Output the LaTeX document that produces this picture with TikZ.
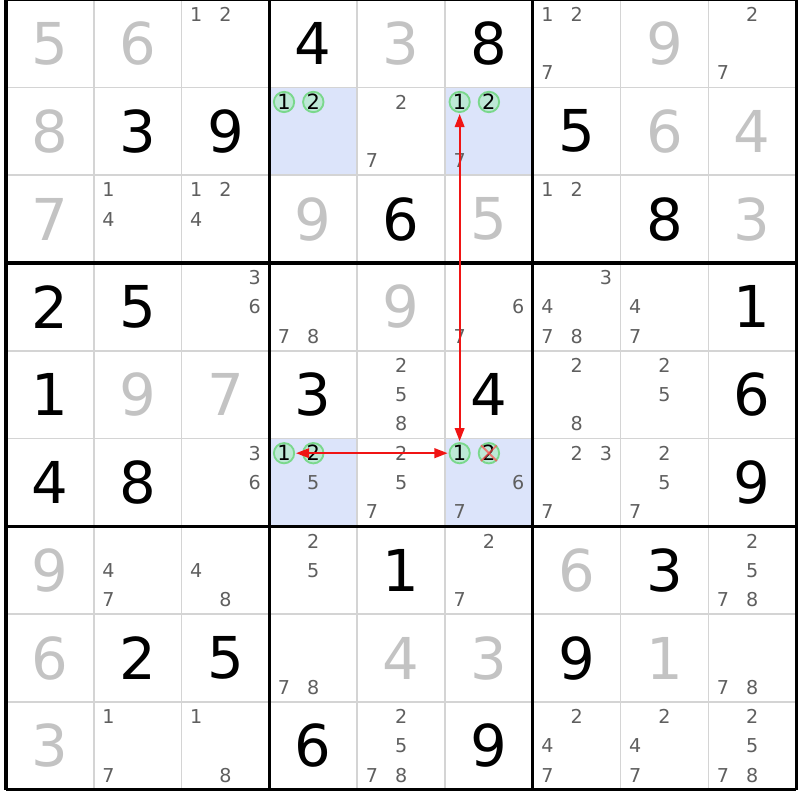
\documentclass[tikz,border=0pt]{standalone}
\usepackage{fontspec}
\setmainfont{DejaVu Sans}
\usepackage{tikz}
\usetikzlibrary{arrows.meta}
\definecolor{givengray}{RGB}{195,195,195}
\definecolor{candgray}{RGB}{95,95,95}
\definecolor{hlblue}{RGB}{220,228,250}
\definecolor{ringgreen}{RGB}{122,216,140}
\definecolor{ringfill}{RGB}{189,232,214}
\definecolor{linkred}{RGB}{240,20,20}
\definecolor{gridgray}{RGB}{212,212,212}
\tikzset{given/.style = {inner sep=0pt, text=givengray, font=\fontsize{18.7}{20}\selectfont}}
\tikzset{solved/.style = {inner sep=0pt, text=black, font=\fontsize{18.7}{20}\selectfont}}
\tikzset{cand/.style = {inner sep=0pt, text=candgray, font=\fontsize{6.2}{7}\selectfont}}
\tikzset{pair/.style = {circle, draw=ringgreen, fill=ringfill, line width=0.6pt, inner sep=0pt, minimum size=0.23cm, text=black, font=\fontsize{6.8}{7}\selectfont}}
\tikzset{link/.style = {draw=linkred, line width=0.6pt, {Triangle[length=0.15cm,width=0.11cm]}-{Triangle[length=0.15cm,width=0.11cm]}, shorten <=0.3pt, shorten >=0.3pt}}

\begin{document}
\begin{tikzpicture}[x=0.1666667cm, y=0.1666667cm]
	\useasboundingbox (-0.41,-0.70) rectangle (54.26,53.97);
	% marked cells
	\fill[hlblue] (18,42) rectangle (24,48);
	\fill[hlblue] (30,42) rectangle (36,48);
	\fill[hlblue] (18,18) rectangle (24,24);
	\fill[hlblue] (30,18) rectangle (36,24);
	% grid
	\draw[gridgray, line width=0.5pt] (0,0) grid[step=1cm] (54,54);
	\draw[black, line width=1pt] (0,0) grid[step=3cm] (54,54);
	\begin{scope}
		% row 1
		\node[given] (r1c1) at (3,51) {5};
		\node[given] (r1c2) at (9,51) {6};
		\node[cand] (r1c3n1) at (13,53) {1};
		\node[cand] (r1c3n2) at (15,53) {2};
		\node[solved] (r1c4) at (21,51) {4};
		\node[given] (r1c5) at (27,51) {3};
		\node[solved] (r1c6) at (33,51) {8};
		\node[cand] (r1c7n1) at (37,53) {1};
		\node[cand] (r1c7n2) at (39,53) {2};
		\node[cand] (r1c7n7) at (37,49) {7};
		\node[given] (r1c8) at (45,51) {9};
		\node[cand] (r1c9n2) at (51,53) {2};
		\node[cand] (r1c9n7) at (49,49) {7};
		% row 2
		\node[given] (r2c1) at (3,45) {8};
		\node[solved] (r2c2) at (9,45) {3};
		\node[solved] (r2c3) at (15,45) {9};
		\node[pair] (r2c4n1) at (19,47) {1};
		\node[pair] (r2c4n2) at (21,47) {2};
		\node[cand] (r2c5n2) at (27,47) {2};
		\node[cand] (r2c5n7) at (25,43) {7};
		\node[pair] (r2c6n1) at (31,47) {1};
		\node[pair] (r2c6n2) at (33,47) {2};
		\node[cand] (r2c6n7) at (31,43) {7};
		\node[solved] (r2c7) at (39,45) {5};
		\node[given] (r2c8) at (45,45) {6};
		\node[given] (r2c9) at (51,45) {4};
		% row 3
		\node[given] (r3c1) at (3,39) {7};
		\node[cand] (r3c2n1) at (7,41) {1};
		\node[cand] (r3c2n4) at (7,39) {4};
		\node[cand] (r3c3n1) at (13,41) {1};
		\node[cand] (r3c3n2) at (15,41) {2};
		\node[cand] (r3c3n4) at (13,39) {4};
		\node[given] (r3c4) at (21,39) {9};
		\node[solved] (r3c5) at (27,39) {6};
		\node[given] (r3c6) at (33,39) {5};
		\node[cand] (r3c7n1) at (37,41) {1};
		\node[cand] (r3c7n2) at (39,41) {2};
		\node[solved] (r3c8) at (45,39) {8};
		\node[given] (r3c9) at (51,39) {3};
		% row 4
		\node[solved] (r4c1) at (3,33) {2};
		\node[solved] (r4c2) at (9,33) {5};
		\node[cand] (r4c3n3) at (17,35) {3};
		\node[cand] (r4c3n6) at (17,33) {6};
		\node[cand] (r4c4n7) at (19,31) {7};
		\node[cand] (r4c4n8) at (21,31) {8};
		\node[given] (r4c5) at (27,33) {9};
		\node[cand] (r4c6n6) at (35,33) {6};
		\node[cand] (r4c6n7) at (31,31) {7};
		\node[cand] (r4c7n3) at (41,35) {3};
		\node[cand] (r4c7n4) at (37,33) {4};
		\node[cand] (r4c7n7) at (37,31) {7};
		\node[cand] (r4c7n8) at (39,31) {8};
		\node[cand] (r4c8n4) at (43,33) {4};
		\node[cand] (r4c8n7) at (43,31) {7};
		\node[solved] (r4c9) at (51,33) {1};
		% row 5
		\node[solved] (r5c1) at (3,27) {1};
		\node[given] (r5c2) at (9,27) {9};
		\node[given] (r5c3) at (15,27) {7};
		\node[solved] (r5c4) at (21,27) {3};
		\node[cand] (r5c5n2) at (27,29) {2};
		\node[cand] (r5c5n5) at (27,27) {5};
		\node[cand] (r5c5n8) at (27,25) {8};
		\node[solved] (r5c6) at (33,27) {4};
		\node[cand] (r5c7n2) at (39,29) {2};
		\node[cand] (r5c7n8) at (39,25) {8};
		\node[cand] (r5c8n2) at (45,29) {2};
		\node[cand] (r5c8n5) at (45,27) {5};
		\node[solved] (r5c9) at (51,27) {6};
		% row 6
		\node[solved] (r6c1) at (3,21) {4};
		\node[solved] (r6c2) at (9,21) {8};
		\node[cand] (r6c3n3) at (17,23) {3};
		\node[cand] (r6c3n6) at (17,21) {6};
		\node[pair] (r6c4n1) at (19,23) {1};
		\node[pair] (r6c4n2) at (21,23) {2};
		\node[cand] (r6c4n5) at (21,21) {5};
		\node[cand] (r6c5n2) at (27,23) {2};
		\node[cand] (r6c5n5) at (27,21) {5};
		\node[cand] (r6c5n7) at (25,19) {7};
		\node[pair] (r6c6n1) at (31,23) {1};
		\node[pair] (r6c6n2) at (33,23) {2};
		\node[cand] (r6c6n6) at (35,21) {6};
		\node[cand] (r6c6n7) at (31,19) {7};
		\node[cand] (r6c7n2) at (39,23) {2};
		\node[cand] (r6c7n3) at (41,23) {3};
		\node[cand] (r6c7n7) at (37,19) {7};
		\node[cand] (r6c8n2) at (45,23) {2};
		\node[cand] (r6c8n5) at (45,21) {5};
		\node[cand] (r6c8n7) at (43,19) {7};
		\node[solved] (r6c9) at (51,21) {9};
		% row 7
		\node[given] (r7c1) at (3,15) {9};
		\node[cand] (r7c2n4) at (7,15) {4};
		\node[cand] (r7c2n7) at (7,13) {7};
		\node[cand] (r7c3n4) at (13,15) {4};
		\node[cand] (r7c3n8) at (15,13) {8};
		\node[cand] (r7c4n2) at (21,17) {2};
		\node[cand] (r7c4n5) at (21,15) {5};
		\node[solved] (r7c5) at (27,15) {1};
		\node[cand] (r7c6n2) at (33,17) {2};
		\node[cand] (r7c6n7) at (31,13) {7};
		\node[given] (r7c7) at (39,15) {6};
		\node[solved] (r7c8) at (45,15) {3};
		\node[cand] (r7c9n2) at (51,17) {2};
		\node[cand] (r7c9n5) at (51,15) {5};
		\node[cand] (r7c9n7) at (49,13) {7};
		\node[cand] (r7c9n8) at (51,13) {8};
		% row 8
		\node[given] (r8c1) at (3,9) {6};
		\node[solved] (r8c2) at (9,9) {2};
		\node[solved] (r8c3) at (15,9) {5};
		\node[cand] (r8c4n7) at (19,7) {7};
		\node[cand] (r8c4n8) at (21,7) {8};
		\node[given] (r8c5) at (27,9) {4};
		\node[given] (r8c6) at (33,9) {3};
		\node[solved] (r8c7) at (39,9) {9};
		\node[given] (r8c8) at (45,9) {1};
		\node[cand] (r8c9n7) at (49,7) {7};
		\node[cand] (r8c9n8) at (51,7) {8};
		% row 9
		\node[given] (r9c1) at (3,3) {3};
		\node[cand] (r9c2n1) at (7,5) {1};
		\node[cand] (r9c2n7) at (7,1) {7};
		\node[cand] (r9c3n1) at (13,5) {1};
		\node[cand] (r9c3n8) at (15,1) {8};
		\node[solved] (r9c4) at (21,3) {6};
		\node[cand] (r9c5n2) at (27,5) {2};
		\node[cand] (r9c5n5) at (27,3) {5};
		\node[cand] (r9c5n7) at (25,1) {7};
		\node[cand] (r9c5n8) at (27,1) {8};
		\node[solved] (r9c6) at (33,3) {9};
		\node[cand] (r9c7n2) at (39,5) {2};
		\node[cand] (r9c7n4) at (37,3) {4};
		\node[cand] (r9c7n7) at (37,1) {7};
		\node[cand] (r9c8n2) at (45,5) {2};
		\node[cand] (r9c8n4) at (43,3) {4};
		\node[cand] (r9c8n7) at (43,1) {7};
		\node[cand] (r9c9n2) at (51,5) {2};
		\node[cand] (r9c9n5) at (51,3) {5};
		\node[cand] (r9c9n7) at (49,1) {7};
		\node[cand] (r9c9n8) at (51,1) {8};
	\end{scope}
	% eliminated candidate
	\draw[red!70, opacity=0.7, line width=0.6pt] (r6c6n2.north west) -- (r6c6n2.south east);
	\draw[red!70, opacity=0.7, line width=0.6pt] (r6c6n2.south west) -- (r6c6n2.north east);
	% links
	\path[link] (r6c6n1) -- (r2c6n1);
	\path[link] (r6c4n1) -- (r6c6n1);
\end{tikzpicture}
\end{document}
